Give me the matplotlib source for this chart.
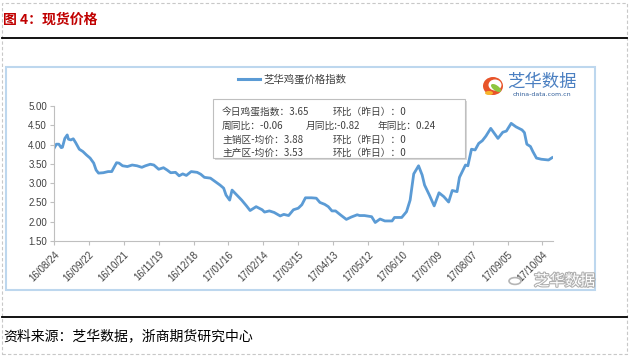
import numpy as np
import pandas as pd
import matplotlib
matplotlib.use("Agg")
import matplotlib.pyplot as plt
import matplotlib.patches as patches
import matplotlib.patheffects as pe
from matplotlib.lines import Line2D

cjk = ['Noto Sans CJK SC', 'DejaVu Sans']
plt.rcParams['font.family'] = cjk

# 芝华鸡蛋价格指数, days from 2016-08-24
days = [0, 2, 4, 6, 7, 9, 11, 12, 14, 16, 18, 21, 24, 27, 30, 33, 35, 37, 41, 45,
        48, 49, 52, 54, 57, 61, 65, 69, 73, 76, 80, 83, 87, 91, 94, 97, 101, 104, 107, 110,
        114, 119, 122, 125, 130, 134, 138, 141, 143, 146, 148, 152, 156, 160, 163, 168, 173, 175, 179, 183,
        188, 191, 195, 199, 203, 206, 209, 214, 218, 221, 225, 228, 231, 234, 238, 243, 247, 252, 254, 258,
        264, 267, 271, 275, 281, 283, 289, 293, 296, 299, 303, 306, 308, 312, 316, 320, 324, 328, 331, 335,
        337, 342, 344, 347, 350, 353, 356, 359, 363, 366, 369, 373, 376, 380, 384, 389, 391, 393, 396, 398,
        401, 405, 411, 414]
index = [3.90, 4.01, 4.01, 3.92, 3.93, 4.16, 4.25, 4.14, 4.12, 4.15, 4.05, 3.88, 3.82, 3.73, 3.65, 3.52, 3.34, 3.26, 3.27, 3.30,
         3.30, 3.36, 3.53, 3.52, 3.45, 3.43, 3.47, 3.45, 3.41, 3.45, 3.49, 3.47, 3.36, 3.40, 3.34, 3.27, 3.28, 3.19, 3.24, 3.20,
         3.30, 3.28, 3.23, 3.15, 3.13, 3.04, 2.95, 2.87, 2.69, 2.56, 2.82, 2.69, 2.56, 2.41, 2.29, 2.39, 2.31, 2.25, 2.28, 2.24,
         2.15, 2.19, 2.16, 2.31, 2.35, 2.44, 2.62, 2.62, 2.61, 2.50, 2.45, 2.39, 2.28, 2.28, 2.18, 2.06, 2.12, 2.18, 2.16, 2.16,
         2.13, 1.98, 2.07, 2.02, 2.02, 2.11, 2.11, 2.26, 2.56, 3.24, 3.45, 3.21, 2.95, 2.69, 2.41, 2.75, 2.65, 2.51, 2.81, 2.78,
         3.15, 3.47, 3.45, 3.88, 3.86, 4.03, 4.10, 4.22, 4.42, 4.29, 4.16, 4.32, 4.35, 4.55, 4.46, 4.38, 4.31, 4.01, 3.95, 3.82,
         3.65, 3.62, 3.60, 3.66]

tick_labels = ['16/08/24', '16/09/22', '16/10/21', '16/11/19', '16/12/18', '17/01/16', '17/02/14',
               '17/03/15', '17/04/13', '17/05/12', '17/06/10', '17/07/09', '17/08/07', '17/09/05', '17/10/04']

info_lines = [['今日鸡蛋指数：3.65', '环比（昨日）：0'],
              ['周同比：-0.06', '月同比:-0.82', '年同比：0.24'],
              ['主销区-均价：3.88', '环比（昨日）：0'],
              ['主产区-均价：3.53', '环比（昨日）：0']]

W, H = 630, 357
def fx(px):
    return px / W
def fy(py):
    return 1 - py / H

start = pd.Timestamp('2016-08-24')
dates = start + pd.to_timedelta(days, unit='D')
tick_dates = pd.to_datetime(tick_labels, format='%y/%m/%d')

fig = plt.figure(figsize=(6.3, 3.57), dpi=100)
fig.patch.set_facecolor('white')

# outer dashed border
fig.add_artist(patches.Rectangle((fx(2), fy(354)), fx(625), 351 / H, transform=fig.transFigure,
                                 fill=False, ec='#c8c8c8', lw=0.8, ls=(0, (3, 2))))
# title + rules
fig.text(fx(3), fy(20), '图 4：现货价格', fontsize=10, fontweight='bold', color='#c00000',
         va='center', ha='left')
fig.add_artist(Line2D([fx(2), fx(627)], [fy(38), fy(38)], transform=fig.transFigure, color='black', lw=1.3))
fig.add_artist(Line2D([fx(2), fx(627)], [fy(317), fy(317)], transform=fig.transFigure, color='black', lw=1.3))
fig.text(fx(3), fy(336), '资料来源：芝华数据，浙商期货研究中心', fontsize=10, color='black',
         va='center', ha='left')

# chart frame
fig.add_artist(patches.Rectangle((fx(6), fy(290)), (595 - 6) / W, (290 - 67) / H, transform=fig.transFigure,
                                 fill=False, ec='#bdd7ee', lw=1.5))

ax = fig.add_axes([fx(54), fy(241), (553.3 - 54) / W, (241 - 106) / H])
ax.plot(dates, index, color='#5b9bd5', lw=2.0, solid_joinstyle='round')
ax.set_ylim(1.5, 5.0)
ax.set_xlim(start, start + pd.Timedelta(days=415))
ax.set_yticks(np.arange(1.5, 5.01, 0.5))
ax.set_yticklabels(['%.2f' % v for v in np.arange(1.5, 5.01, 0.5)], family='Liberation Sans', fontsize=7,
                   color='#404040')
ax.set_xticks(tick_dates)
ax.set_xticklabels(tick_labels, rotation=45, ha='right', va='top', rotation_mode='anchor',
                   family='Liberation Sans', fontsize=7, color='#404040')
for s in ['top', 'right']:
    ax.spines[s].set_visible(False)
for s in ['left', 'bottom']:
    ax.spines[s].set_color('#bfbfbf')
    ax.spines[s].set_linewidth(0.8)
ax.tick_params(axis='both', length=3, width=0.8, color='#bfbfbf', pad=2)
ax.tick_params(axis='x', pad=3)

# legend
fig.add_artist(Line2D([fx(238), fx(260)], [fy(79), fy(79)], transform=fig.transFigure, color='#5b9bd5', lw=2.2))
fig.text(fx(263), fy(79), '芝华鸡蛋价格指数', fontsize=7.5, color='#404040', va='center', ha='left')

# info box
fig.add_artist(patches.Rectangle((fx(215), fy(160)), (465 - 213) / W, (160 - 101) / H, transform=fig.transFigure,
                                 fc='#d9d9d9', ec='none'))
fig.add_artist(patches.Rectangle((fx(213), fy(158)), (465 - 213) / W, (158 - 99) / H, transform=fig.transFigure,
                                 fc='white', ec='#bfbfbf', lw=0.8))
col_x = [[222, 333], [222, 306, 378], [222, 333], [222, 333]]
row_y = [112, 125.5, 139.5, 152.5]
for parts, xs, yy in zip(info_lines, col_x, row_y):
    for t, xx in zip(parts, xs):
        fig.text(fx(xx), fy(yy), t, fontsize=7, color='#404040', va='center', ha='left')

# logo
logo_c = (fx(493), fy(86))
fig.add_artist(patches.Ellipse(logo_c, 20 / W, 18 / H, transform=fig.transFigure, fc='#e8542a', ec='none'))
fig.add_artist(patches.Ellipse((fx(495), fy(85)), 13 / W, 11 / H, transform=fig.transFigure, fc='white', ec='none'))
fig.add_artist(patches.Ellipse((fx(496), fy(88)), 7 / W, 9 / H, angle=30, transform=fig.transFigure,
                               fc='#8dc63f', ec='none'))
fig.add_artist(patches.Ellipse((fx(489), fy(93)), 8 / W, 4 / H, transform=fig.transFigure, fc='#f7b52c', ec='none'))
fig.text(fx(507), fy(82), '芝华数据', fontsize=12.5, color='#4a7fc1', va='center', ha='left')
fig.text(fx(542), fy(94), 'china-data.com.cn', fontsize=4.5, color='#2f5d9a', va='center', ha='center',
         family='DejaVu Sans')

# watermark
fig.add_artist(patches.Circle((fx(515), fy(281)), 6 / W, transform=fig.transFigure, fill=False,
                              ec='#b5b5b5', lw=1.2))
fig.text(fx(534), fy(281), '芝华数据', fontsize=11, color='white', va='center', ha='left',
         path_effects=[pe.withStroke(linewidth=1.6, foreground='#b0b0b0')])

fig.savefig('out.png', dpi=100)
